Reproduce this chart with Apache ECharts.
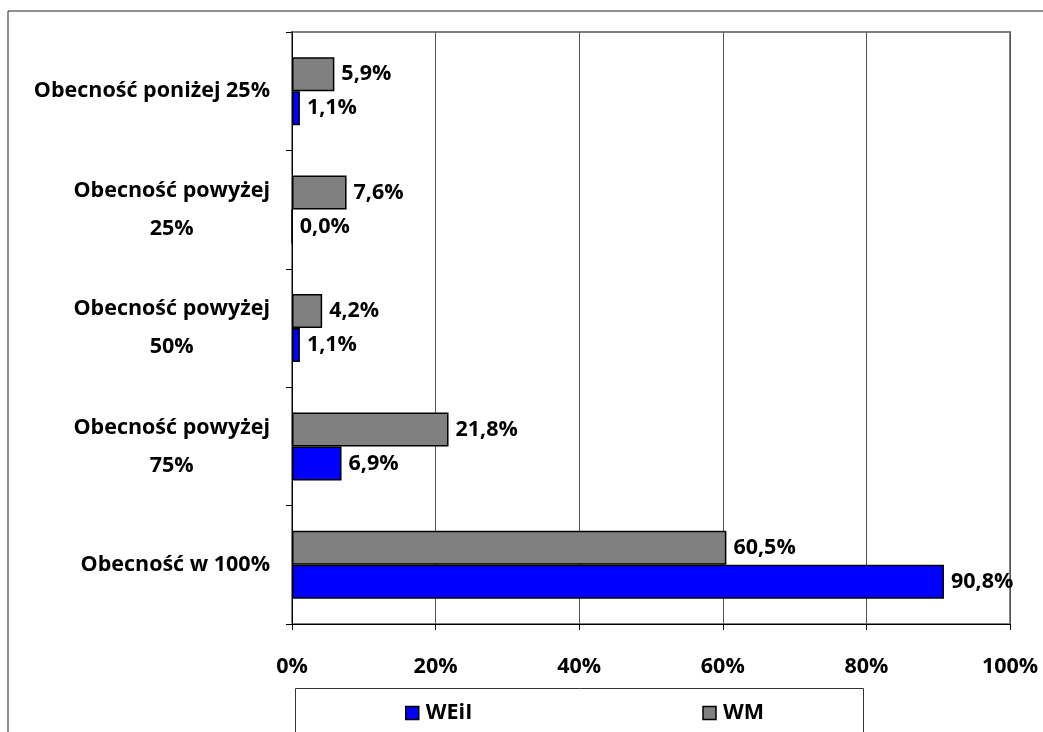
<!DOCTYPE html>
<html>
<head>
<meta charset="utf-8">
<script src="https://cdn.jsdelivr.net/npm/echarts@6/dist/echarts.min.js"></script>
<style>
html,body{margin:0;padding:0;background:#fff;}
#chart{width:1043px;height:732px;}
</style>
</head>
<body>
<div id="chart"></div>
<script>
const categories = ['Obecność w 100%', 'Obecność powyżej 75%', 'Obecność powyżej 50%', 'Obecność powyżej 25%', 'Obecność poniżej 25%'];
const seriesNames = ['WEiI', 'WM'];
const weiiValues = [90.8, 6.9, 1.1, 0.0, 1.1];
const wmValues = [60.5, 21.8, 4.2, 7.6, 5.9];
const xTicks = [0, 20, 40, 60, 80, 100];

const FONT = 'Open Sans';
const FS = 21.5;
const chart = echarts.init(document.getElementById('chart'));

function fmtPct(v){ return v.toFixed(1).replace('.', ',') + '%'; }

const labelStyle = {
  show: true, position: 'right', distance: 7,
  fontFamily: FONT, fontWeight: 'bold', fontSize: FS, color: '#000',
  formatter: p => fmtPct(p.value)
};

chart.setOption({
  animation: false,
  backgroundColor: '#fff',
  textStyle: { fontFamily: FONT },
  grid: { left: 292, right: 33, top: 32, bottom: 108, show: true, borderColor: '#808080', borderWidth: 2, containLabel: false },
  graphic: [
    { type: 'rect', shape: { x: 8, y: 11, width: 1200, height: 900 }, style: { fill: 'none', stroke: '#222', lineWidth: 1 }, z: -10, silent: true },
    { type: 'rect', shape: { x: 295.5, y: 688.5, width: 568, height: 100 }, style: { fill: 'none', stroke: '#333', lineWidth: 1 }, z: 10, silent: true }
  ],
  legend: {
    data: seriesNames,
    left: 400, top: 697,
    itemWidth: 13, itemHeight: 13, itemGap: 230,
    icon: 'rect',
    itemStyle: { borderColor: '#000', borderWidth: 1.5 },
    textStyle: { fontFamily: FONT, fontWeight: 'bold', fontSize: FS, color: '#000', padding: [0,0,0,2] }
  },
  xAxis: {
    type: 'value', min: 0, max: 100, interval: 20,
    axisLine: { show: true, lineStyle: { color: '#000', width: 1 } },
    axisTick: { show: true, length: 6, lineStyle: { color: '#000' } },
    splitLine: { show: true, lineStyle: { color: '#555', width: 1 } },
    axisLabel: { margin: 32, fontFamily: FONT, fontWeight: 'bold', fontSize: FS, color: '#000', formatter: v => xTicks.includes(v) ? v + '%' : '' }
  },
  yAxis: {
    type: 'category', data: categories,
    axisLine: { show: true, lineStyle: { color: '#000', width: 1 } },
    axisTick: { show: true, length: 6, inside: false, lineStyle: { color: '#000' } },
    splitLine: { show: false },
    axisLabel: {
      margin: 22, align: 'right', lineHeight: 38,
      fontFamily: FONT, fontWeight: 'bold', fontSize: FS, color: '#000',
      formatter: v => {
        const lines = v.indexOf('powyżej ') >= 0 ? v.replace('powyżej ', 'powyżej\n').split('\n') : [v];
        return lines.map(l => '{c|' + l + '}').join('\n');
      },
      rich: { c: { align: 'center', fontFamily: FONT, fontWeight: 'bold', fontSize: FS, color: '#000', lineHeight: 38 } }
    }
  },
  series: [
    { name: seriesNames[1], type: 'bar', data: wmValues, barWidth: 34, barGap: '0%',
      itemStyle: { color: '#808080', borderColor: '#000', borderWidth: 1.5 }, label: labelStyle },
    { name: seriesNames[0], type: 'bar', data: weiiValues, barWidth: 34, barGap: '0%',
      itemStyle: { color: '#0000FF', borderColor: '#000', borderWidth: 1.5 }, label: labelStyle }
  ]
});
</script>
</body>
</html>
